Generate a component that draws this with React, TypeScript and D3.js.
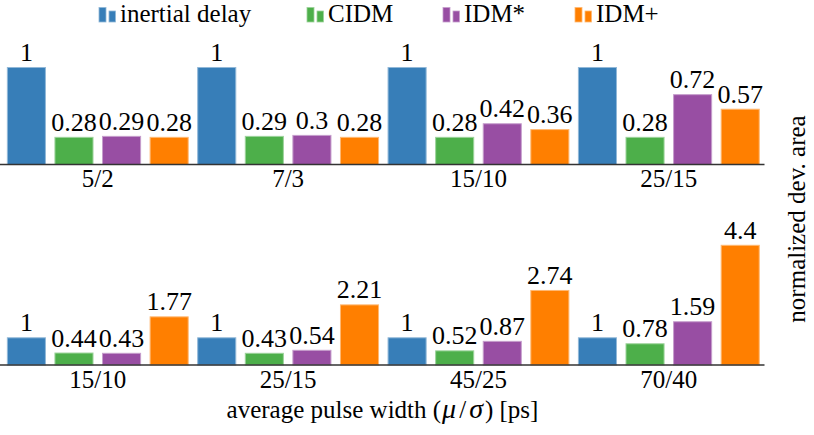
import React from "react";
import * as d3 from "d3";

const seriesNames = ["inertial delay", "CIDM", "IDM*", "IDM+"];
const seriesColors = ["#377eb8", "#4daf4a", "#984ea3", "#ff7f00"];

const topCategories = ["5/2", "7/3", "15/10", "25/15"];
const topInertial = [1, 1, 1, 1];
const topCIDM = [0.28, 0.29, 0.28, 0.28];
const topIDMstar = [0.29, 0.3, 0.42, 0.72];
const topIDMplus = [0.28, 0.28, 0.36, 0.57];

const bottomCategories = ["15/10", "25/15", "45/25", "70/40"];
const bottomInertial = [1, 1, 1, 1];
const bottomCIDM = [0.44, 0.43, 0.52, 0.78];
const bottomIDMstar = [0.43, 0.54, 0.87, 1.59];
const bottomIDMplus = [1.77, 2.21, 2.74, 4.4];

const xTitle = "average pulse width";
const yTitle = "normalized dev. area";

const FONT = "Liberation Serif";
const FS = 25;
const FS_VAL = 26;

function lighten(c: string) {
  return d3.interpolateRgb(c, "#ffffff")(0.45);
}

type PanelProps = {
  cats: string[];
  series: number[][];
  y0: number;
  yTop: number;
  maxV: number;
};

function Panel({ cats, series, y0, yTop, maxV }: PanelProps) {
  const xG = d3.scaleBand<string>().domain(cats).range([2.6, 764]).padding(0);
  const xS = d3
    .scaleBand<number>()
    .domain(d3.range(series.length))
    .range([0, xG.bandwidth()])
    .paddingInner(0.2)
    .paddingOuter(0.1);
  const y = d3.scaleLinear().domain([0, maxV]).range([y0, yTop]);
  return (
    <g>
      {cats.map((c, ci) => (
        <g key={c + ci} transform={`translate(${xG(c)},0)`}>
          {series.map((s, si) => {
            const v = s[ci];
            const x = xS(si)!;
            const w = xS.bandwidth();
            return (
              <g key={si}>
                <rect
                  x={x}
                  y={y(v)}
                  width={w}
                  height={y0 - y(v)}
                  fill={seriesColors[si]}
                  stroke={lighten(seriesColors[si])}
                  strokeWidth={1}
                />
                <text
                  x={x + w / 2}
                  y={y(v) - 6.5}
                  textAnchor="middle"
                  fontFamily={FONT}
                  fontSize={FS_VAL}
                  fill="#000"
                >
                  {String(v)}
                </text>
              </g>
            );
          })}
          <text
            x={xG.bandwidth() / 2}
            y={y0 + 22.5}
            textAnchor="middle"
            fontFamily={FONT}
            fontSize={FS}
            fill="#000"
          >
            {c}
          </text>
        </g>
      ))}
      <line x1={0} x2={764.5} y1={y0} y2={y0} stroke="#333" strokeWidth={1.4} />
    </g>
  );
}

export default function App() {
  const topSeries = [topInertial, topCIDM, topIDMstar, topIDMplus];
  const bottomSeries = [bottomInertial, bottomCIDM, bottomIDMstar, bottomIDMplus];
  const legendX = [99, 307, 443, 575];
  return (
    <svg
      width={814}
      height={435}
      fontFamily={FONT}
      style={{ position: "absolute", left: 0, top: 0 }}
    >
      {seriesNames.map((n, i) => (
        <g key={n} transform={`translate(${legendX[i]},0)`}>
          <rect x={0} y={7.5} width={7} height={14.5} fill={seriesColors[i]} stroke={lighten(seriesColors[i])} strokeWidth={0.8} />
          <rect x={10} y={11} width={6.5} height={11} fill={seriesColors[i]} stroke={lighten(seriesColors[i])} strokeWidth={0.8} />
          <text x={21} y={22} fontFamily={FONT} fontSize={FS} fill="#000">
            {n}
          </text>
        </g>
      ))}
      <Panel cats={topCategories} series={topSeries} y0={164.5} yTop={67.5} maxV={1} />
      <Panel cats={bottomCategories} series={bottomSeries} y0={365} yTop={245.3} maxV={4.4} />
      <text x={382.5} y={418} textAnchor="middle" fontFamily={FONT} fontSize={FS} fill="#000">
        {xTitle} (<tspan fontStyle="italic" fontSize={28} dx={1}>μ</tspan>
        <tspan dx={3}>/</tspan>
        <tspan fontStyle="italic" fontSize={28} dx={3}>σ</tspan>
        <tspan dx={2}>) [ps]</tspan>
      </text>
      <text
        transform="translate(805,219) rotate(-90)"
        textAnchor="middle"
        fontFamily={FONT}
        fontSize={FS}
        fill="#000"
      >
        {yTitle}
      </text>
    </svg>
  );
}
